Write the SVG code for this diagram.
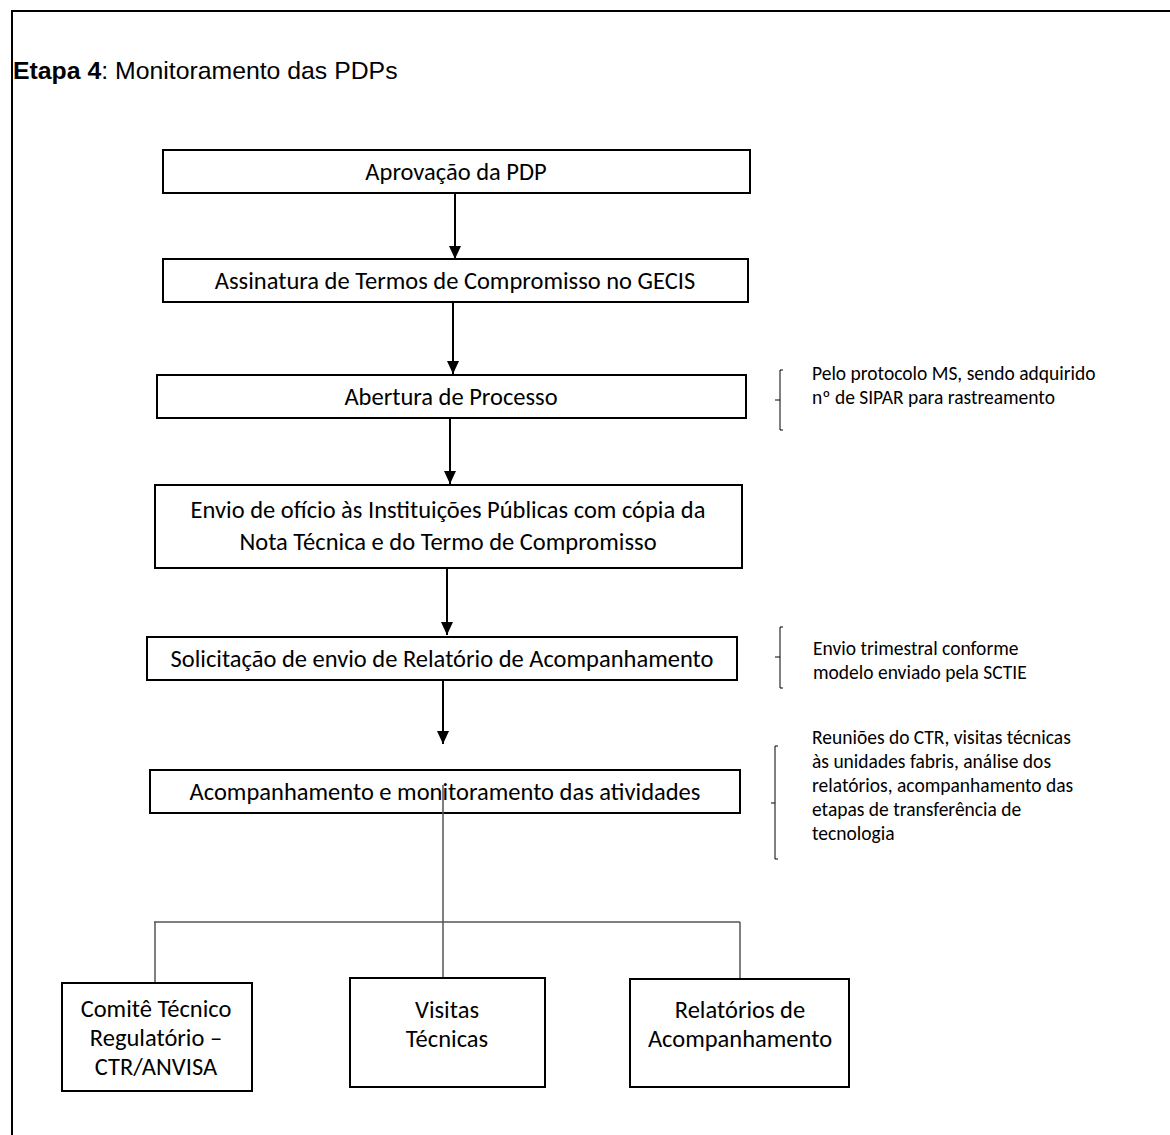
<svg xmlns="http://www.w3.org/2000/svg" width="1170" height="1135" viewBox="0 0 1170 1135">
  <style>
    .frame { fill: none; stroke: #000; stroke-width: 2; }
    .box { fill: #fff; stroke: #000; stroke-width: 2; }
    .t { font-family: Carlito, Lato, "Liberation Sans", sans-serif; font-size: 24.5px; fill: #000; text-anchor: middle; }
    .note { font-family: Carlito, Lato, "Liberation Sans", sans-serif; font-size: 19.5px; fill: #000; }
    .title { font-family: "Liberation Sans", Arial, sans-serif; font-size: 24.8px; fill: #000; }
    .arrow { stroke: #000; stroke-width: 2; fill: none; marker-end: url(#ah); }
    .tree { stroke: #555; stroke-width: 1.5; fill: none; }
    .brace { stroke: #000; stroke-width: 1; fill: none; }
  </style>
  <defs>
    <marker id="ah" viewBox="0 0 13 12" refX="13" refY="6" markerWidth="13" markerHeight="12" markerUnits="userSpaceOnUse" orient="auto">
      <path d="M0,0 L13,6 L0,12 Z" fill="#000"/>
    </marker>
  </defs>

  <rect width="1170" height="1135" fill="#fff"/>
  <!-- page frame -->
  <path class="frame" d="M12,1135 L12,11 L1170,11"/>

  <text class="title" x="13" y="79"><tspan font-weight="bold">Etapa 4</tspan>: Monitoramento das PDPs</text>

  <g id="n1">
    <rect class="box" x="163" y="150" width="587" height="43"/>
    <text class="t" x="456" y="180">Aprovação da PDP</text>
  </g>
  <g id="n2">
    <rect class="box" x="163" y="259" width="585" height="43"/>
    <text class="t" x="455" y="289">Assinatura de Termos de Compromisso no GECIS</text>
  </g>
  <g id="n3">
    <rect class="box" x="157" y="375" width="589" height="43"/>
    <text class="t" x="451" y="405">Abertura de Processo</text>
  </g>
  <g id="n3-note">
    <path class="brace" d="M783,370 L780,370 L780,430 L783,430 M780,400 L775,400"/>
    <text class="note" x="812" y="380">Pelo protocolo MS, sendo adquirido</text>
    <text class="note" x="812" y="404">nº de SIPAR para rastreamento</text>
  </g>
  <g id="n4">
    <rect class="box" x="155" y="485" width="587" height="83"/>
    <text class="t" x="448" y="518">Envio de ofício às Instituições Públicas com cópia da</text>
    <text class="t" x="448" y="550">Nota Técnica e do Termo de Compromisso</text>
  </g>
  <g id="n5">
    <rect class="box" x="147" y="637" width="590" height="43"/>
    <text class="t" x="442" y="667">Solicitação de envio de Relatório de Acompanhamento</text>
  </g>
  <g id="n5-note">
    <path class="brace" d="M783,627 L780,627 L780,688 L783,688 M780,657 L775,657"/>
    <text class="note" x="813" y="655">Envio trimestral conforme</text>
    <text class="note" x="813" y="679">modelo enviado pela SCTIE</text>
  </g>
  <g id="n6">
    <rect class="box" x="150" y="770" width="590" height="43"/>
    <text class="t" x="445" y="800">Acompanhamento e monitoramento das atividades</text>
  </g>
  <g id="n6-note">
    <path class="brace" d="M778,746 L775,746 L775,859 L778,859 M775,803 L771,803"/>
    <text class="note" x="812" y="744">Reuniões do CTR, visitas técnicas</text>
    <text class="note" x="812" y="768">às unidades fabris, análise dos</text>
    <text class="note" x="812" y="792">relatórios, acompanhamento das</text>
    <text class="note" x="812" y="816">etapas de transferência de</text>
    <text class="note" x="812" y="840">tecnologia</text>
  </g>
  <g id="n7">
    <rect class="box" x="62" y="983" width="190" height="108"/>
    <text class="t" x="156" y="1017">Comitê Técnico</text>
    <text class="t" x="156" y="1046">Regulatório –</text>
    <text class="t" x="156" y="1075">CTR/ANVISA</text>
  </g>
  <g id="n8">
    <rect class="box" x="350" y="978" width="195" height="109"/>
    <text class="t" x="447" y="1018">Visitas</text>
    <text class="t" x="447" y="1047">Técnicas</text>
  </g>
  <g id="n9">
    <rect class="box" x="630" y="979" width="219" height="108"/>
    <text class="t" x="740" y="1018">Relatórios de</text>
    <text class="t" x="740" y="1047">Acompanhamento</text>
  </g>

  <g id="connectors">
    <line class="arrow" x1="455" y1="193" x2="455" y2="259"/>
    <line class="arrow" x1="453" y1="302" x2="453" y2="374"/>
    <line class="arrow" x1="450" y1="418" x2="450" y2="484"/>
    <line class="arrow" x1="447" y1="568" x2="447" y2="635"/>
    <line class="arrow" x1="443" y1="680" x2="443" y2="744"/>
    <path class="tree" d="M443,785 L443,977"/>
    <path class="tree" d="M154,922 L740,922"/>
    <path class="tree" d="M155,922 L155,982"/>
    <path class="tree" d="M740,922 L740,978"/>
  </g>
</svg>
